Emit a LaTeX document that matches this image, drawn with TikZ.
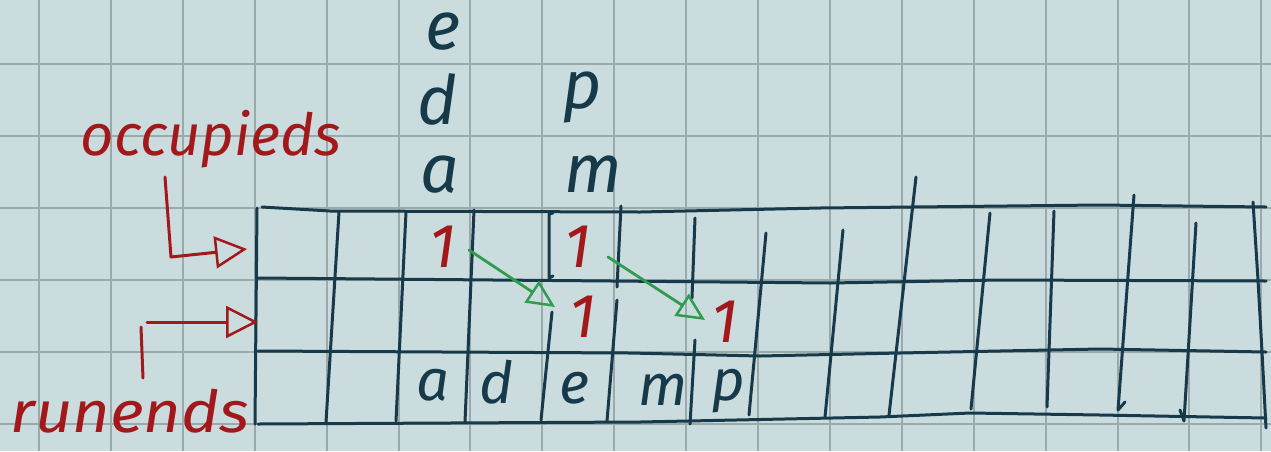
\documentclass[tikz,border=0pt]{standalone}
\usepackage{fontspec}
\setmainfont{Fira Sans}
\usetikzlibrary{arrows.meta}
\definecolor{bgc}{HTML}{CBDCDF}
\definecolor{gridc}{HTML}{9CA9AA}
\definecolor{ink}{HTML}{173A4A}
\definecolor{redink}{HTML}{A3191B}
\definecolor{greenink}{HTML}{2F9C4F}
\tikzset{
  inkline/.style={draw=ink, line width=3pt, line cap=round, line join=round},
  redline/.style={draw=redink, line width=3pt, line cap=round, line join=round},
  greenline/.style={draw=greenink, line width=2.8pt, line cap=round, line join=round},
  letter/.style={text=ink, inner sep=0pt, anchor=base, font=\itshape\fontsize{68}{68}\selectfont},
  smallletter/.style={letter, font=\itshape\fontsize{58}{58}\selectfont},
  one/.style={text=redink, inner sep=0pt, anchor=base, font=\itshape\fontsize{62}{62}\selectfont},
  redtext/.style={text=redink, inner sep=0pt, anchor=base, font=\itshape\fontsize{58}{58}\selectfont},
  openhead/.style={-{Triangle[open, length=32pt, width=32pt, line width=2.5pt]}},
  greenhead/.style={-{Triangle[open, length=28pt, width=26pt, line width=2.5pt]}}
}
\begin{document}
\begin{tikzpicture}[x=1pt,y=-1pt]
\fill[bgc] (0,0) rectangle (1271,451);
\useasboundingbox (0,0) rectangle (1271,451);
% graph paper
\foreach \k in {0,...,17} \draw[gridc, line width=2pt] ({39+71.9*\k},0) -- ({39+71.9*\k},451);
\foreach \k in {0,...,5} \draw[gridc, line width=2pt] (0,{64+72*\k}) -- (1271,{64+72*\k});
% table horizontal lines
\draw[inkline] (262,207) -- (330,211) -- (640,212) -- (820,208) -- (1100,205) -- (1266,207);
\draw[inkline] (258,278) -- (612,281) -- (830,283) -- (1000,280) -- (1266,281);
\draw[inkline] (258,351) -- (630,353) -- (760,356) -- (900,353) -- (1100,349) -- (1266,352);
\draw[inkline] (258,424) -- (640,422) -- (880,417) -- (970,413) -- (1100,415) -- (1266,418);
% borders
\draw[inkline] (257,208) -- (255,424);
\draw[inkline] (1253,202) -- (1258,280) -- (1262,352) -- (1266,428);
% vertical lines
\draw[inkline] (339,212) -- (326,422);
\draw[inkline] (406,212) -- (396,421);
\draw[inkline] (474,210) -- (465,422);
\draw[inkline] (553,213) -- (549,214) -- (549,278) -- (553,276);
\draw[inkline] (552,312) -- (541,420);
\draw[inkline] (621,206) -- (617,287);
\draw[inkline] (617,300) -- (607,421);
\draw[inkline] (695,218) -- (692,298);
\draw[inkline] (695,340) -- (690,424);
\draw[inkline] (766,233) -- (749,415);
\draw[inkline] (843,230) -- (825,417);
\draw[inkline] (916,177) -- (889,415);
\draw[inkline] (990,213) -- (971,409);
\draw[inkline] (1054,211) -- (1047,407);
\draw[inkline] (1134,195) -- (1118,410) -- (1125,402);
\draw[inkline] (1196,223) -- (1184,421) -- (1180,410);
% top letters
\node[letter] (e1) at (443,49) {e};
\node[letter] (d1) at (437,124) {d};
\node[letter] (a1) at (440,192) {a};
\node[letter] (p1) at (582,108) {p};
\node[letter] (m1) at (593,192) {m};
% bottom row letters
\node[smallletter] (ra) at (433,400) {a};
\node[smallletter] (rd) at (497,403) {d};
\node[smallletter] (re) at (574,403) {e};
\node[smallletter] (rm) at (663,405) {m};
\node[smallletter] (rp) at (728,400) {p};
% ones
\node[one] (o1) at (443,267) {1};
\node[one] (o2) at (578,267) {1};
\node[one] (o3) at (583,337) {1};
\node[one] (o4) at (725,342) {1};
% green arrows
\coordinate (g1s) at (469,250);
\coordinate (g1e) at (555,307);
\coordinate (g2s) at (608,257);
\coordinate (g2e) at (705,320);
\draw[greenline, greenhead] (g1s) -- (g1e);
\draw[greenline, greenhead] (g2s) -- (g2e);
% labels
\node[redtext] (occ) at (211,155) {occupieds};
\node[redtext, xscale=1.12] (run) at (130,432) {runends};
\coordinate (occA) at (165,177);
\coordinate (occB) at (171,257);
\coordinate (occT) at (247,249);
\coordinate (runA) at (147,322);
\coordinate (runT) at (258,322);
\draw[redline, openhead] (occA) -- (occB) -- (occT);
\draw[redline, openhead] (runA) -- (runT);
\draw[redline] (141,327) -- (143,378);
\end{tikzpicture}
\end{document}
